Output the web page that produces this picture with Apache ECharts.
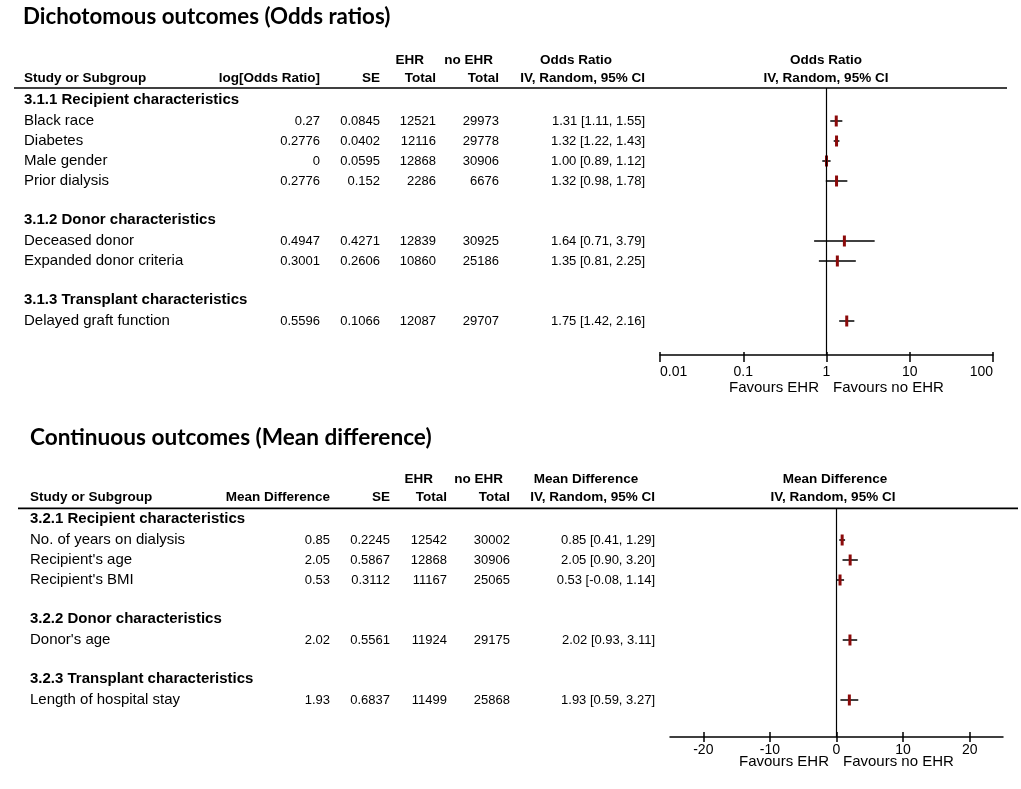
<!DOCTYPE html>
<html>
<head>
<meta charset="utf-8">
<script src="https://cdn.jsdelivr.net/npm/echarts@6/dist/echarts.min.js"></script>
<style>
html, body { margin: 0; background: #fff; }
#main { width: 1021px; height: 789px; }
</style>
</head>
<body>
<div id="main"></div>
<script>
// ---- dichotomous outcomes (odds ratios) ----
var orSubgroups = ['3.1.1 Recipient characteristics', '3.1.2 Donor characteristics', '3.1.3 Transplant characteristics'];
var orStudies = ['Black race', 'Diabetes', 'Male gender', 'Prior dialysis', 'Deceased donor', 'Expanded donor criteria', 'Delayed graft function'];
var orGroupOf = [0, 0, 0, 0, 1, 1, 2];
var orLogOR = [0.27, 0.2776, 0, 0.2776, 0.4947, 0.3001, 0.5596];
var orSE = [0.0845, 0.0402, 0.0595, 0.152, 0.4271, 0.2606, 0.1066];
var orEhrTotal = [12521, 12116, 12868, 2286, 12839, 10860, 12087];
var orNoEhrTotal = [29973, 29778, 30906, 6676, 30925, 25186, 29707];
var orEst = [1.31, 1.32, 1.00, 1.32, 1.64, 1.35, 1.75];
var orLo = [1.11, 1.22, 0.89, 0.98, 0.71, 0.81, 1.42];
var orHi = [1.55, 1.43, 1.12, 1.78, 3.79, 2.25, 2.16];
var orTicks = [0.01, 0.1, 1, 10, 100];
var orTickLabels = ['0.01', '0.1', '1', '10', '100'];

// ---- continuous outcomes (mean difference) ----
var mdSubgroups = ['3.2.1 Recipient characteristics', '3.2.2 Donor characteristics', '3.2.3 Transplant characteristics'];
var mdStudies = ['No. of years on dialysis', "Recipient's age", "Recipient's BMI", "Donor's age", 'Length of hospital stay'];
var mdGroupOf = [0, 0, 0, 1, 2];
var mdMD = [0.85, 2.05, 0.53, 2.02, 1.93];
var mdSE = [0.2245, 0.5867, 0.3112, 0.5561, 0.6837];
var mdEhrTotal = [12542, 12868, 11167, 11924, 11499];
var mdNoEhrTotal = [30002, 30906, 25065, 29175, 25868];
var mdLo = [0.41, 0.90, -0.08, 0.93, 0.59];
var mdHi = [1.29, 3.20, 1.14, 3.11, 3.27];
var mdTicks = [-20, -10, 0, 10, 20];

var FONT = '"Liberation Sans", Arial, sans-serif';
var NAME_SIZE = 15, NUM_SIZE = 13, HEAD_SIZE = 13.5, GROUP_SIZE = 15;

var chart = echarts.init(document.getElementById('main'));

// heading row, its studies, one blank row before the next heading
function layoutRows(groupOf, nGroups) {
    var head = [], study = [], r = 0;
    for (var g = 0; g < nGroups; g++) {
        if (g > 0) r++;
        head.push(r++);
        groupOf.forEach(function (gi, i) { if (gi === g) study[i] = r++; });
    }
    return { head: head, study: study };
}

function ciText(e, lo, hi) {
    return e.toFixed(2) + ' [' + lo.toFixed(2) + ', ' + hi.toFixed(2) + ']';
}

function txt(x, row, text, align, size, bold) {
    return { x: x, row: row, text: String(text), align: align, size: size, bold: !!bold };
}

function buildCells(t) {
    var rows = layoutRows(t.groupOf, t.subgroups.length);
    var c = t.col, cells = [];
    // header
    cells.push(txt(c.ehrHead, -2.05, 'EHR', 'right', HEAD_SIZE, true));
    cells.push(txt(c.noEhrHead, -2.05, 'no EHR', 'right', HEAD_SIZE, true));
    cells.push(txt(c.effHead, -2.05, t.effName, 'center', HEAD_SIZE, true));
    cells.push(txt(c.plotMid, -2.05, t.effName, 'center', HEAD_SIZE, true));
    cells.push(txt(c.name, -1.15, 'Study or Subgroup', 'left', HEAD_SIZE, true));
    cells.push(txt(c.v1, -1.15, t.v1Name, 'right', HEAD_SIZE, true));
    cells.push(txt(c.se, -1.15, 'SE', 'right', HEAD_SIZE, true));
    cells.push(txt(c.ehr, -1.15, 'Total', 'right', HEAD_SIZE, true));
    cells.push(txt(c.noEhr, -1.15, 'Total', 'right', HEAD_SIZE, true));
    cells.push(txt(c.ci, -1.15, 'IV, Random, 95% CI', 'right', HEAD_SIZE, true));
    cells.push(txt(c.plotMid2, -1.15, 'IV, Random, 95% CI', 'center', HEAD_SIZE, true));
    cells.push({ x: c.lineFrom, x2: c.lineTo, row: t.lineRow });
    // subgroup headings
    t.subgroups.forEach(function (s, g) {
        cells.push(txt(c.name, rows.head[g] - 0.08, s, 'left', GROUP_SIZE, true));
    });
    // studies
    t.studies.forEach(function (s, i) {
        var r = rows.study[i];
        cells.push(txt(c.name, r, s, 'left', NAME_SIZE));
        cells.push(txt(c.v1, r, t.v1[i], 'right', NUM_SIZE));
        cells.push(txt(c.se, r, t.se[i], 'right', NUM_SIZE));
        cells.push(txt(c.ehr, r, t.ehr[i], 'right', NUM_SIZE));
        cells.push(txt(c.noEhr, r, t.noEhr[i], 'right', NUM_SIZE));
        cells.push(txt(c.ci, r, ciText(t.est[i], t.lo[i], t.hi[i]), 'right', NUM_SIZE));
    });
    // favours
    cells.push(txt(c.favL, t.favRow, 'Favours EHR', 'right', NAME_SIZE));
    cells.push(txt(c.favR, t.favRow, 'Favours no EHR', 'left', NAME_SIZE));
    return { cells: cells, rows: rows };
}

var orTable = buildCells({
    subgroups: orSubgroups, studies: orStudies, groupOf: orGroupOf,
    v1Name: 'log[Odds Ratio]', effName: 'Odds Ratio',
    v1: orLogOR, se: orSE, ehr: orEhrTotal, noEhr: orNoEhrTotal,
    est: orEst, lo: orLo, hi: orHi,
    lineRow: -0.65, favRow: 14.35,
    col: { name: 24, v1: 320, se: 380, ehr: 436, noEhr: 499, ci: 645,
           ehrHead: 424, noEhrHead: 493, effHead: 576, plotMid: 826, plotMid2: 826,
           lineFrom: 14, lineTo: 1007, favL: 819, favR: 833 }
});

var mdTable = buildCells({
    subgroups: mdSubgroups, studies: mdStudies, groupOf: mdGroupOf,
    v1Name: 'Mean Difference', effName: 'Mean Difference',
    v1: mdMD, se: mdSE, ehr: mdEhrTotal, noEhr: mdNoEhrTotal,
    est: mdMD, lo: mdLo, hi: mdHi,
    lineRow: -0.58, favRow: 12.1,
    col: { name: 30, v1: 330, se: 390, ehr: 447, noEhr: 510, ci: 655,
           ehrHead: 433, noEhrHead: 503, effHead: 586, plotMid: 835, plotMid2: 833,
           lineFrom: 18, lineTo: 1018, favL: 829, favR: 843 }
});

function tableSeries(table, idx) {
    var cells = table.cells;
    return {
        type: 'custom',
        xAxisIndex: idx, yAxisIndex: idx,
        clip: false, silent: true,
        data: cells.map(function (c) { return [c.x, c.row]; }),
        encode: { x: 0, y: 1 },
        renderItem: function (params, api) {
            var c = cells[params.dataIndex];
            var p = api.coord([c.x, c.row]);
            if (c.x2 != null) {
                var q = api.coord([c.x2, c.row]);
                return { type: 'line', shape: { x1: p[0], y1: p[1], x2: q[0], y2: q[1] },
                         style: { stroke: '#000', lineWidth: 1.6 } };
            }
            return {
                type: 'text', x: p[0], y: p[1],
                style: {
                    text: c.text, fill: '#000',
                    align: c.align, verticalAlign: 'middle',
                    fontFamily: FONT, fontSize: c.size, fontWeight: c.bold ? 'bold' : 'normal'
                }
            };
        }
    };
}

function plotSeries(est, lo, hi, rows, idx, refValue) {
    return {
        type: 'custom',
        xAxisIndex: idx, yAxisIndex: idx,
        silent: true, clip: false,
        data: est.map(function (e, i) { return [lo[i], hi[i], e, rows.study[i]]; }),
        encode: { x: [0, 1, 2], y: 3 },
        renderItem: function (params, api) {
            var y = api.value(3);
            var a = api.coord([api.value(0), y]);
            var b = api.coord([api.value(1), y]);
            var c = api.coord([api.value(2), y]);
            return {
                type: 'group',
                children: [
                    { type: 'line', shape: { x1: a[0], y1: a[1], x2: b[0], y2: b[1] },
                      style: { stroke: '#000', lineWidth: 1.5 } },
                    { type: 'rect', shape: { x: c[0] - 1.5, y: c[1] - 5.5, width: 3, height: 11 },
                      style: { fill: '#8b0a0a' } }
                ]
            };
        },
        markLine: {
            silent: true, symbol: 'none', animation: false,
            label: { show: false },
            lineStyle: { color: '#000', width: 1.2, type: 'solid' },
            data: [{ xAxis: refValue }]
        }
    };
}

function plotAxes(gridIndex, base, ticks, formatter, opt) {
    var main = Object.assign({
        gridIndex: gridIndex, position: 'bottom',
        axisLine: { show: true, onZero: false, lineStyle: { color: '#000', width: 1.5 } },
        axisTick: { show: true, customValues: ticks, length: opt.down, lineStyle: { color: '#000', width: 1.5 } },
        axisLabel: { show: true, customValues: ticks, formatter: formatter, color: '#000',
                     fontFamily: FONT, fontSize: 14, margin: opt.margin,
                     alignMinLabel: opt.edgeAlign ? 'left' : 'center',
                     alignMaxLabel: opt.edgeAlign ? 'right' : 'center' },
        splitLine: { show: false }
    }, base);
    var up = Object.assign({
        gridIndex: gridIndex, position: 'bottom',
        axisLine: { show: false, onZero: false },
        axisTick: { show: true, inside: true, customValues: ticks, length: opt.up, lineStyle: { color: '#000', width: 1.5 } },
        axisLabel: { show: false },
        splitLine: { show: false }
    }, base);
    return [main, up];
}

var orAxes = plotAxes(1, { type: 'log', logBase: 10, min: 0.01, max: 100 }, orTicks,
    function (v) { return orTickLabels[Math.round(Math.log(v) / Math.LN10) + 2]; },
    { down: 7, up: 3, margin: 10, edgeAlign: true });
var mdAxes = plotAxes(3, { type: 'value', min: -25, max: 25 }, mdTicks,
    function (v) { return String(v); },
    { down: 5, up: 5, margin: 6.5, edgeAlign: false });

var option = {
    animation: false,
    backgroundColor: '#fff',
    title: [
        { text: 'Dichotomous outcomes (Odds ratios)', left: 23, top: 6, padding: 0,
          textStyle: { fontFamily: 'Lato', fontWeight: 'bold', fontSize: 22.3, color: '#000' } },
        { text: 'Continuous outcomes (Mean difference)', left: 30, top: 426, padding: 0,
          textStyle: { fontFamily: 'Lato', fontWeight: 'bold', fontSize: 22.6, color: '#000' } }
    ],
    grid: [
        { left: 0, width: 1021, top: 41, height: 360 },
        { left: 660, width: 333, top: 88, height: 267 },
        { left: 0, width: 1021, top: 460, height: 320 },
        { left: 670, width: 333, top: 508, height: 229 }
    ],
    xAxis: [
        { gridIndex: 0, type: 'value', min: 0, max: 1021, show: false },
        orAxes[0],
        { gridIndex: 2, type: 'value', min: 0, max: 1021, show: false },
        mdAxes[0],
        orAxes[1],
        mdAxes[1]
    ],
    yAxis: [
        { gridIndex: 0, type: 'value', inverse: true, min: -3, max: 15, show: false },
        { gridIndex: 1, type: 'value', inverse: true, min: -0.65, max: 12.7, show: false },
        { gridIndex: 2, type: 'value', inverse: true, min: -3, max: 13, show: false },
        { gridIndex: 3, type: 'value', inverse: true, min: -0.6, max: 10.85, show: false },
        { gridIndex: 1, type: 'value', inverse: true, min: -0.65, max: 12.7, show: false },
        { gridIndex: 3, type: 'value', inverse: true, min: -0.6, max: 10.85, show: false }
    ],
    series: [
        tableSeries(orTable, 0),
        plotSeries(orEst, orLo, orHi, orTable.rows, 1, 1),
        tableSeries(mdTable, 2),
        plotSeries(mdMD, mdLo, mdHi, mdTable.rows, 3, 0)
    ]
};

chart.setOption(option);
</script>
</body>
</html>
